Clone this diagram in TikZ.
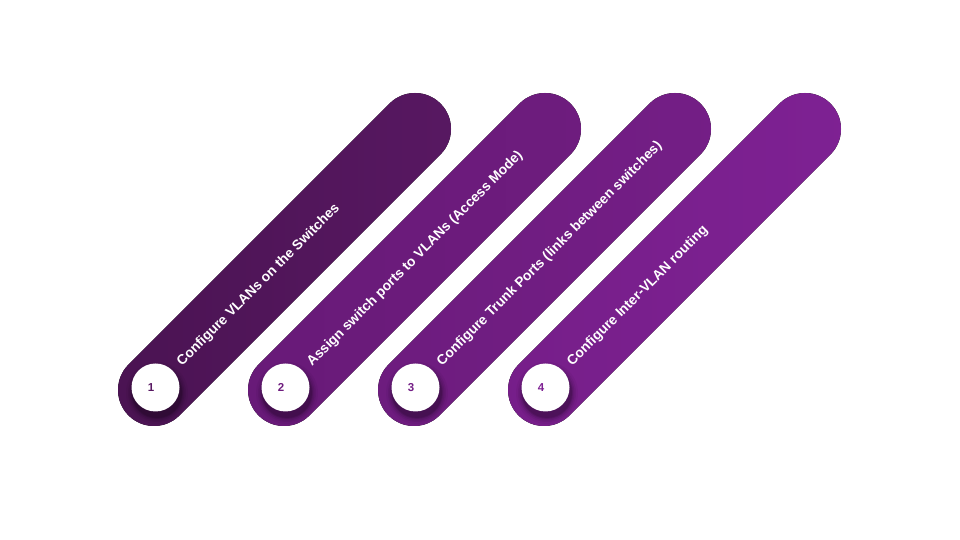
\documentclass[tikz,border=0pt]{standalone}
\usepackage{fontspec}
\setmainfont{Liberation Sans}
\usetikzlibrary{calc}
\definecolor{baraL}{HTML}{4A1352}
\definecolor{baraR}{HTML}{581862}
\definecolor{barbL}{HTML}{681A78}
\definecolor{barbR}{HTML}{6E1C7E}
\definecolor{barcL}{HTML}{6D1C7E}
\definecolor{barcR}{HTML}{741E86}
\definecolor{bardL}{HTML}{761E89}
\definecolor{bardR}{HTML}{7E2193}
\begin{document}
\begin{tikzpicture}[x=1pt,y=1pt,
  disc/.style={circle, fill=white, minimum size=48pt, inner sep=0pt},
  numtxt/.style={font=\fontsize{11.5}{13}\selectfont\bfseries, inner sep=0pt},
  lbl/.style={font=\fontsize{13.8}{16}\selectfont\bfseries, text=white, inner sep=0pt, anchor=base west, rotate=45}]
\useasboundingbox (0,0) rectangle (960,540);
\fill[white] (0,0) rectangle (960,540);
\foreach \i/\L/\R/\txt in {1/baraL/baraR/{Configure VLANs on the Switches},
                          2/barbL/barbR/{Assign switch ports to VLANs (Access Mode)},
                          3/barcL/barcR/{Configure Trunk Ports (links between switches)},
                          4/bardL/bardR/{Configure Inter-VLAN routing}}{
  \pgfmathsetmacro{\xo}{154+130*(\i-1)}
  \begin{scope}[shift={(\xo,150)}, rotate=45]
    \fill[rounded corners=36pt, left color=\L, right color=\R] (-36,-36) rectangle (405.1,36);
  \end{scope}
  \coordinate (s\i) at ({\xo+2.5},150.5);
  \foreach \r/\o in {31/0.04, 29/0.06, 27.5/0.08, 26/0.1, 25/0.12}
    \fill[black, opacity=\o] ($(s\i)+(0.5,-3.5)$) circle (\r);
  \node[disc] (c\i) at ({\xo+1.5},152.5) {};
  \node[numtxt, text=\R] (n\i) at ($(c\i)+(-4.5,0)$) {\i};
  \node[lbl] (t\i) at ($(c\i)+(26.6,20.6)$) {\txt};
}
\end{tikzpicture}
\end{document}
